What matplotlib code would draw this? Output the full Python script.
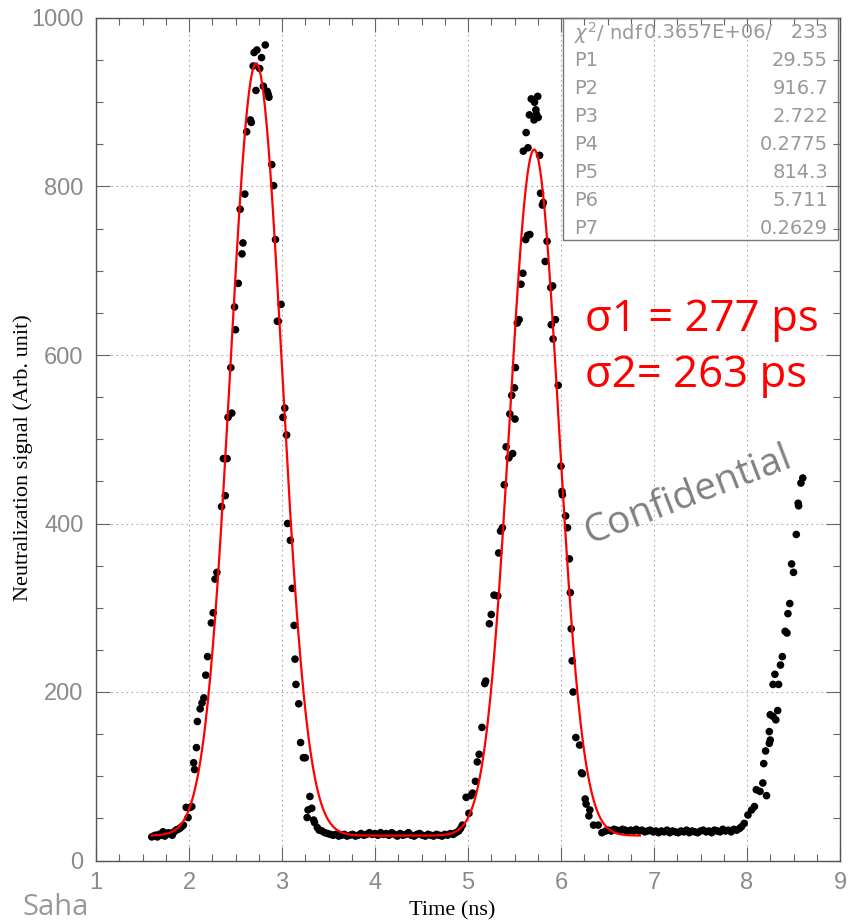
import numpy as np
import matplotlib.pyplot as plt
from matplotlib.ticker import MultipleLocator

#%% data (time in ns, signal in arb. unit)
t_base1 = [1.60, 1.62, 1.64, 1.66, 1.68, 1.70, 1.72, 1.74, 1.76, 1.78, 1.80, 1.82,
           1.84, 1.86, 1.88, 1.90, 1.92, 1.94]
s_base1 = [28, 29, 30, 28, 31, 30, 34, 29, 31, 33, 32, 30, 34, 36, 37, 38, 40, 42]

t_peak1 = [1.97, 1.99, 2.01, 2.03, 2.05, 2.06, 2.08, 2.09, 2.12, 2.14, 2.16, 2.18,
           2.20, 2.24, 2.26, 2.28, 2.30, 2.35, 2.37, 2.39, 2.41, 2.42, 2.45, 2.46,
           2.49, 2.50, 2.53, 2.55, 2.57, 2.58, 2.60, 2.62, 2.66, 2.67, 2.69, 2.70,
           2.72, 2.73, 2.76, 2.78, 2.80, 2.82, 2.84, 2.85, 2.86, 2.89, 2.91, 2.93,
           2.95, 2.96, 2.99, 3.01, 3.03, 3.05, 3.06, 3.09, 3.11, 3.13, 3.14, 3.15,
           3.18, 3.20, 3.23, 3.25, 3.27, 3.28, 3.30, 3.32, 3.34, 3.35, 3.38, 3.40,
           3.43]
s_peak1 = [63, 51, 63, 64, 116, 108, 134, 165, 180, 187, 193, 220,
           242, 282, 294, 334, 342, 420, 477, 433, 477, 526, 585, 531,
           657, 630, 685, 773, 720, 733, 791, 865, 879, 876, 943, 959,
           914, 962, 940, 953, 919, 968, 913, 910, 906, 826, 801, 737,
           640, 640, 660, 526, 537, 505, 400, 380, 323, 279, 239, 209,
           186, 140, 122, 122, 51, 60, 76, 62, 48, 45, 39, 36,
           35]

t_base2 = [3.46, 3.49, 3.52, 3.55, 3.58, 3.61, 3.64, 3.67, 3.70, 3.73, 3.76, 3.79,
           3.82, 3.85, 3.88, 3.91, 3.94, 3.97, 4.00, 4.03, 4.06, 4.09, 4.12, 4.15,
           4.18, 4.21, 4.24, 4.27, 4.30, 4.33, 4.36, 4.39, 4.42, 4.45, 4.48, 4.51,
           4.54, 4.57, 4.60, 4.63, 4.66, 4.69, 4.72, 4.75, 4.78, 4.81, 4.84, 4.87,
           4.90]
s_base2 = [33, 32, 31, 30, 31, 29, 30, 31, 29, 30, 31, 29,
           30, 32, 30, 31, 33, 31, 32, 30, 33, 31, 32, 30,
           33, 31, 29, 32, 30, 31, 33, 30, 29, 31, 32, 30,
           29, 31, 30, 29, 31, 30, 29, 31, 30, 32, 31, 33,
           35]

t_peak2 = [4.92, 4.94, 4.98, 5.01, 5.03, 5.05, 5.08, 5.10, 5.12, 5.15, 5.18, 5.19,
           5.23, 5.25, 5.28, 5.32, 5.33, 5.35, 5.37, 5.39, 5.41, 5.44, 5.45, 5.47,
           5.48, 5.50, 5.505, 5.51, 5.53, 5.55, 5.57, 5.59, 5.595, 5.62, 5.625, 5.64,
           5.645, 5.66, 5.665, 5.68, 5.71, 5.715, 5.73, 5.735, 5.75, 5.755, 5.77, 5.78,
           5.80, 5.81, 5.83, 5.85, 5.89, 5.895, 5.91, 5.915, 5.94, 5.97, 6.00, 6.01,
           6.015, 6.05, 6.07, 6.09, 6.10, 6.11, 6.12, 6.13, 6.16, 6.20, 6.22, 6.23,
           6.26, 6.27, 6.30, 6.31, 6.35, 6.40, 6.44, 6.48]
s_peak2 = [38, 42, 75, 56, 77, 80, 94, 117, 126, 158, 210, 213,
           281, 292, 315, 314, 365, 391, 395, 446, 491, 478, 530, 552,
           483, 561, 524, 585, 638, 642, 684, 697, 842, 737, 864, 742,
           846, 885, 743, 904, 879, 900, 891, 886, 907, 882, 837, 792,
           778, 781, 711, 735, 680, 636, 682, 619, 642, 564, 468, 438,
           434, 409, 395, 358, 318, 275, 237, 200, 146, 137, 104, 103,
           73, 67, 53, 60, 42, 42, 33, 35]

t_base3 = [6.51, 6.54, 6.57, 6.60, 6.63, 6.66, 6.69, 6.72, 6.75, 6.78, 6.81, 6.84,
           6.87, 6.90, 6.93, 6.96, 6.99, 7.02, 7.05, 7.08, 7.11, 7.14, 7.17, 7.20,
           7.23, 7.26, 7.29, 7.32, 7.35, 7.38, 7.41, 7.44, 7.47, 7.50, 7.53, 7.56,
           7.59, 7.62, 7.65, 7.68, 7.71, 7.74, 7.77, 7.80, 7.83, 7.86, 7.89, 7.92,
           7.94]
s_base3 = [36, 35, 37, 36, 35, 37, 36, 34, 36, 35, 37, 35,
           36, 34, 35, 36, 34, 35, 33, 35, 34, 36, 33, 35,
           34, 33, 35, 34, 36, 33, 35, 34, 33, 35, 36, 34,
           35, 33, 36, 35, 34, 37, 35, 36, 34, 37, 36, 38,
           40]

t_tail = [7.97, 8.01, 8.05, 8.08, 8.10, 8.14, 8.17, 8.18, 8.20, 8.21, 8.24, 8.24,
          8.25, 8.25, 8.28, 8.28, 8.30, 8.31, 8.33, 8.34, 8.36, 8.38, 8.41, 8.43,
          8.44, 8.46, 8.48, 8.50, 8.53, 8.55, 8.555, 8.58, 8.60]
s_tail = [44, 54, 60, 64, 84, 82, 92, 115, 130, 77, 139, 153,
          143, 173, 171, 209, 221, 167, 178, 209, 232, 242, 272, 270,
          293, 305, 352, 342, 387, 424, 421, 448, 454]

time_ns = t_base1 + t_peak1 + t_base2 + t_peak2 + t_base3 + t_tail
signal = s_base1 + s_peak1 + s_base2 + s_peak2 + s_base3 + s_tail

# fit parameters printed in the stats box (two gaussians + constant)
par_names = ['P1', 'P2', 'P3', 'P4', 'P5', 'P6', 'P7']
par_text = ['29.55', '916.7', '2.722', '0.2775', '814.3', '5.711', '0.2629']
P1, P2, P3, P4, P5, P6, P7 = 29.55, 916.7, 2.722, 0.2775, 814.3, 5.711, 0.2629
fit_range = (1.6, 6.85)

#%% figure
fig = plt.figure(figsize=(8.51, 9.23), dpi=100)
ax = fig.add_axes([96/851, 62.5/923, 744/851, 842.5/923])

ax.scatter(time_ns, signal, s=30, c='black', edgecolors='none', zorder=3)

tf = np.linspace(fit_range[0], fit_range[1], 600)
fit = P1 + P2*np.exp(-0.5*((tf - P3)/P4)**2) + P5*np.exp(-0.5*((tf - P6)/P7)**2)
ax.plot(tf, fit, color='red', lw=1.6, zorder=4)

ax.set_xlim(1, 9)
ax.set_ylim(0, 1000)
ax.xaxis.set_major_locator(MultipleLocator(1))
ax.xaxis.set_minor_locator(MultipleLocator(0.25))
ax.yaxis.set_major_locator(MultipleLocator(200))
ax.yaxis.set_minor_locator(MultipleLocator(50))
ax.tick_params(which='both', direction='in', top=True, right=True, colors='#666666',
               labelcolor='#8a8a8a', labelsize=17)
ax.tick_params(which='major', length=10, width=0.8)
ax.tick_params(which='minor', length=5, width=0.8)
ax.tick_params(axis='x', pad=8)
ax.tick_params(axis='y', pad=9)
for lab in ax.get_xticklabels() + ax.get_yticklabels():
    lab.set_family('Liberation Sans')
for sp in ax.spines.values():
    sp.set_color('#555555')
    sp.set_linewidth(1.0)
ax.grid(True, which='major', ls=(0, (1.5, 3)), color='#aaaaaa', lw=0.8)

fig.text(452/851, 1 - 911/923, 'Time (ns)', family='Liberation Serif', fontsize=16,
         ha='center', va='center')
fig.text(23/851, 1 - 458/923, 'Neutralization signal (Arb. unit)', family='Liberation Serif',
         fontsize=16, rotation=90, ha='center', va='center')

# stats box
box = plt.Rectangle((563/851, 1 - 240/923), 275/851, 222/923, transform=fig.transFigure,
                    fill=False, edgecolor='#777777', lw=1.0, zorder=5)
fig.patches.append(box)
gray = '#999999'
fig.text(574/851, 1 - 33/923, r'$\chi^2$/ ndf', color=gray, fontsize=14, ha='left', va='center')
fig.text(828/851, 1 - 33/923, '0.3657E+06/   233', color=gray, fontsize=14,
         ha='right', va='center')
for k in range(7):
    yy = 1 - (60 + 28.05*k)/923
    fig.text(574/851, yy, par_names[k], color=gray, fontsize=14, ha='left', va='center')
    fig.text(828/851, yy, par_text[k], color=gray, fontsize=14, ha='right', va='center')

# annotations on the slide
fig.text(585/851, 1 - 320/923, 'σ1 = 277 ps', color='red', family='Open Sans',
         fontsize=31.5, ha='left', va='center')
fig.text(585/851, 1 - 376/923, 'σ2= 263 ps', color='red', family='Open Sans',
         fontsize=31.5, ha='left', va='center')
fig.text(688/851, 1 - 495/923, 'Confidential', color='#808080', family='Open Sans',
         fontsize=28, rotation=21, ha='center', va='center')
fig.text(22/851, 1 - 893/923, 'Saha', color='#999999', family='Open Sans',
         fontsize=21, ha='left', va='top')

fig.savefig('out.png', dpi=100)
